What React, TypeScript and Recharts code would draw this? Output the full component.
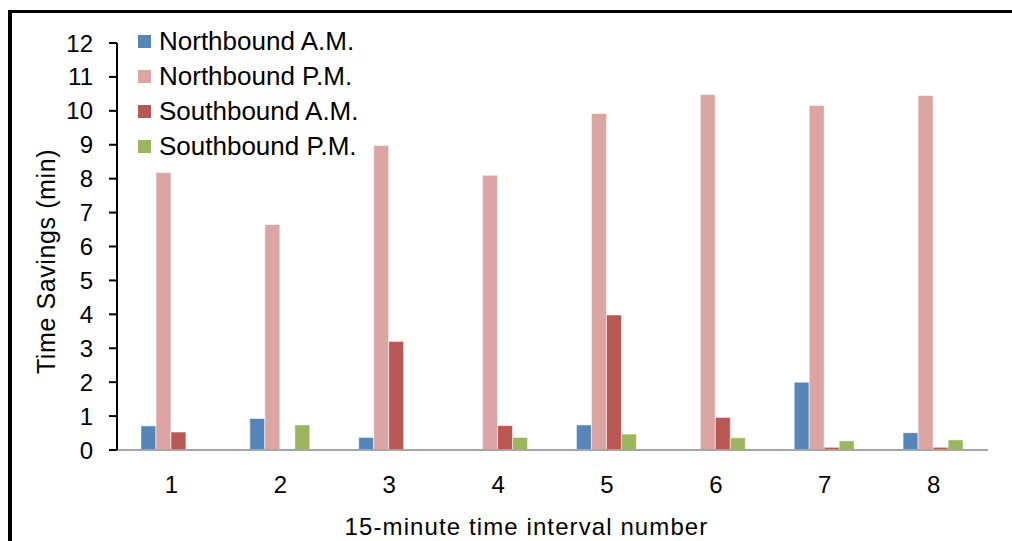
import React from "react"
import { BarChart, Bar, XAxis, YAxis, Legend } from "recharts"

// 15-minute interval numbers on the x axis
const intervals = ["1", "2", "3", "4", "5", "6", "7", "8"]

// Time savings (min) per series
const northboundAM = [0.71, 0.93, 0.37, 0.02, 0.74, 0, 2.0, 0.51]
const northboundPM = [8.18, 6.65, 8.98, 8.1, 9.92, 10.48, 10.16, 10.45]
const southboundAM = [0.53, 0.02, 3.2, 0.72, 3.98, 0.96, 0.08, 0.08]
const southboundPM = [0, 0.74, 0, 0.37, 0.47, 0.36, 0.27, 0.3]

const yTicks = [0, 1, 2, 3, 4, 5, 6, 7, 8, 9, 10, 11, 12]

const series = [
  { key: "nbAM", name: "Northbound A.M.", color: "#5585B9" },
  { key: "nbPM", name: "Northbound P.M.", color: "#DBA5A3" },
  { key: "sbAM", name: "Southbound A.M.", color: "#B95752" },
  { key: "sbPM", name: "Southbound P.M.", color: "#9BB65E" },
]

const data = intervals.map((interval, i) => ({
  interval,
  nbAM: northboundAM[i],
  nbPM: northboundPM[i],
  sbAM: southboundAM[i],
  sbPM: southboundPM[i],
}))

const FONT = '"Liberation Sans", Arial, Helvetica, sans-serif'

const YLabel = (props: any) => {
  const vb = props.viewBox || { x: 0, y: 35, width: 109, height: 407 }
  const cy = vb.y + vb.height / 2 + 15
  const x = 47
  return (
    <text
      x={x}
      y={cy}
      transform={`rotate(-90 ${x} ${cy})`}
      textAnchor="middle"
      fontSize={25}
      letterSpacing={0.6}
      fill="#000"
      fontFamily={FONT}
    >
      Time Savings (min)
    </text>
  )
}

const XLabel = (props: any) => {
  const vb = props.viewBox || { x: 109, y: 442, width: 871, height: 91 }
  return (
    <text
      x={vb.x + vb.width / 2 - 26}
      y={vb.y + 85}
      textAnchor="middle"
      fontSize={24}
      letterSpacing={1.1}
      fill="#000"
      fontFamily={FONT}
    >
      15-minute time interval number
    </text>
  )
}

const LegendContent = (props: any) => {
  const items = props.payload || []
  return (
    <div style={{ fontFamily: FONT, fontSize: 26, color: "#000" }}>
      {items.map((item: any) => (
        <div
          key={item.value}
          style={{ display: "flex", alignItems: "center", height: 35, lineHeight: "35px" }}
        >
          <span
            style={{
              display: "inline-block",
              width: 13,
              height: 13,
              background: item.color,
              marginRight: 8,
            }}
          />
          <span>{item.value}</span>
        </div>
      ))}
    </div>
  )
}

export default function App() {
  // fixed so nothing overflows the page; the frame is open on the right and bottom
  return (
    <div
      style={{
        position: "fixed",
        left: 0,
        top: 0,
        right: 0,
        bottom: 0,
        overflow: "hidden",
        background: "#fff",
      }}
    >
      <div style={{ position: "absolute", left: 8, top: 10, right: 0, height: 3, background: "#000" }} />
      <div style={{ position: "absolute", left: 8, top: 10, bottom: 0, width: 4, background: "#000" }} />
      <div style={{ position: "absolute", left: 8, top: 8 }}>
        <BarChart
          width={1004}
          height={533}
          data={data}
          margin={{ top: 35, right: 24, bottom: 0, left: 0 }}
          barCategoryGap="22%"
          barGap={0}
          style={{ fontFamily: FONT }}
        >
          <XAxis
            dataKey="interval"
            height={91}
            axisLine={{ stroke: "#A6A6A6", strokeWidth: 2 }}
            tickLine={false}
            tickSize={0}
            tickMargin={26}
            tick={{ fontSize: 24, fill: "#000", fontFamily: FONT }}
            label={XLabel}
          />
          <YAxis
            width={109}
            domain={[0, 12]}
            ticks={yTicks}
            interval={0}
            axisLine={{ stroke: "#000", strokeWidth: 2 }}
            tickLine={{ stroke: "#000", strokeWidth: 2 }}
            tickSize={8}
            tickMargin={16}
            tick={{ fontSize: 24, fill: "#000", fontFamily: FONT }}
            label={YLabel}
          />
          <Legend
            layout="vertical"
            align="center"
            verticalAlign="middle"
            content={LegendContent}
            wrapperStyle={{ position: "absolute", left: 130, top: 16, width: 300 }}
          />
          {series.map((s) => (
            <Bar
              key={s.key}
              dataKey={s.key}
              name={s.name}
              fill={s.color}
              stroke="rgba(255,255,255,0.55)"
              strokeWidth={1}
              isAnimationActive={false}
            />
          ))}
        </BarChart>
      </div>
    </div>
  )
}
